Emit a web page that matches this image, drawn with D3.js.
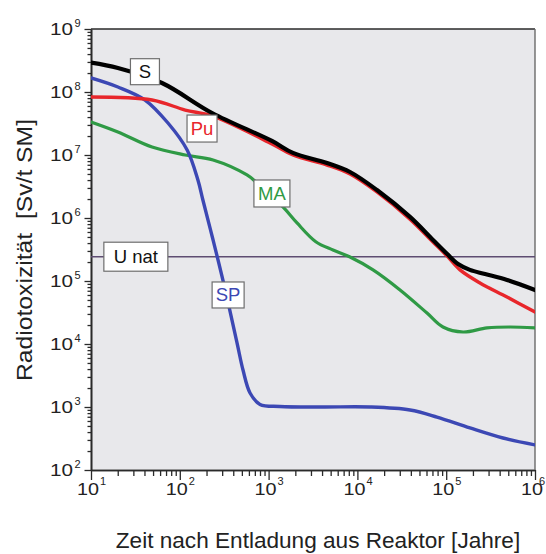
<!DOCTYPE html>
<html>
<head>
<meta charset="utf-8">
<script src="https://cdn.jsdelivr.net/npm/d3@7/dist/d3.min.js"></script>
<style>
  html, body { margin: 0; padding: 0; background: #ffffff; }
  svg { display: block; font-family: "Liberation Sans", Arial, sans-serif; }
</style>
</head>
<body>
<svg id="chart" width="546" height="554"></svg>
<script>
// Radiotoxicity of spent fuel components over time (Sv per tonne heavy metal)
const sYears  = [10, 20.1, 63, 231, 1090, 1880, 4550, 8260, 16600, 39100, 71000, 102000, 136000, 185000, 274000, 484000, 1000000];
const sValues = [2.92e8, 2.40e8, 1.39e8, 4.64e7, 1.67e7, 1.08e7, 7.46e6, 5.37e6, 2.78e6, 1.04e6, 4.48e5, 2.70e5, 1.86e5, 1.50e5, 1.29e5, 1.04e5, 7.2e4];

const puYears  = [10, 48.7, 115, 231, 1090, 1880, 4550, 8260, 16600, 39100, 71000, 102000, 143000, 240000, 484000, 1000000];
const puValues = [8.34e7, 7.46e7, 5.17e7, 4.16e7, 1.50e7, 1.0e7, 6.93e6, 4.99e6, 2.59e6, 9.6e5, 4.16e5, 2.50e5, 1.50e5, 9.3e4, 5.57e4, 3.22e4];

const maYears  = [10, 20.1, 48.7, 115, 237, 571, 740, 1450, 2090, 3400, 5310, 8260, 15000, 30200, 60800, 92000, 155000, 288000, 522000, 1000000];
const maValues = [3.34e7, 2.32e7, 1.34e7, 1.0e7, 8.34e6, 4.82e6, 3.6e6, 1.5e6, 8.34e5, 4.2e5, 3.10e5, 2.40e5, 1.50e5, 7.2e4, 3.10e4, 1.86e4, 1.55e4, 1.80e4, 1.86e4, 1.80e4];

const spYears  = [10, 20.1, 40.6, 73.6, 121, 160, 182, 237, 315, 441, 515, 618, 800, 1340, 4000, 13900, 39100, 78700, 185000, 436000, 1000000];
const spValues = [1.67e8, 1.20e8, 7.46e7, 3.22e7, 1.20e7, 4.0e6, 1.93e6, 4.48e5, 8.65e4, 1.04e4, 3.86e3, 1.67e3, 1.10e3, 1.02e3, 1.0e3, 1.0e3, 897, 693, 465, 322, 250];

const uNatValue = 2.43e5;

const xTickExponents = [1, 2, 3, 4, 5, 6];
const yTickExponents = [2, 3, 4, 5, 6, 7, 8, 9];

// Series styling
const seriesDefs = [
  { name: "MA", years: maYears, values: maValues, color: "#2f9a45", width: 3.2 },
  { name: "SP", years: spYears, values: spValues, color: "#3c48b4", width: 3.4 },
  { name: "Pu", years: puYears, values: puValues, color: "#e8262b", width: 3.4 },
  { name: "S",  years: sYears,  values: sValues,  color: "#000000", width: 4.2 }
];

const svg = d3.select("#chart");
const plotLeft = 91, plotRight = 535, plotTop = 29, plotBottom = 470;

const x = d3.scaleLog().domain([10, 1e6]).range([plotLeft, plotRight]);
const y = d3.scaleLog().domain([1e2, 1e9]).range([plotBottom, plotTop]);

// plot background
svg.append("rect")
  .attr("x", plotLeft).attr("y", plotTop)
  .attr("width", plotRight - plotLeft).attr("height", plotBottom - plotTop)
  .attr("fill", "#e8e8eb");

// minor and major tick values
function minorTicks(lo, hi) {
  const out = [];
  for (let e = lo; e < hi; e++) {
    for (let m = 2; m <= 9; m++) out.push(m * Math.pow(10, e));
  }
  return out;
}
const xMajor = xTickExponents.map(e => Math.pow(10, e));
const yMajor = yTickExponents.map(e => Math.pow(10, e));

const axisColor = "#2a2a2a";

function styleAxis(g) {
  g.select(".domain").attr("stroke", axisColor).attr("stroke-width", 1.6);
  g.selectAll(".tick line").attr("stroke", axisColor).attr("stroke-width", 1.3);
  g.selectAll(".tick text").remove();
}

svg.append("g").attr("transform", `translate(0,${plotBottom})`)
  .call(d3.axisBottom(x).tickValues(minorTicks(1, 6)).tickSize(6).tickSizeOuter(0).tickFormat(""))
  .call(styleAxis);
svg.append("g").attr("transform", `translate(0,${plotBottom})`)
  .call(d3.axisBottom(x).tickValues(xMajor).tickSize(10).tickSizeOuter(0).tickFormat(""))
  .call(styleAxis);
svg.append("g").attr("transform", `translate(${plotLeft},0)`)
  .call(d3.axisLeft(y).tickValues(minorTicks(2, 9)).tickSize(3.5).tickSizeOuter(0).tickFormat(""))
  .call(styleAxis);
svg.append("g").attr("transform", `translate(${plotLeft},0)`)
  .call(d3.axisLeft(y).tickValues(yMajor).tickSize(6.5).tickSizeOuter(0).tickFormat(""))
  .call(styleAxis);

// top and right frame
svg.append("line").attr("x1", plotLeft).attr("x2", plotRight).attr("y1", plotTop).attr("y2", plotTop)
  .attr("stroke", axisColor).attr("stroke-width", 1.6);
svg.append("line").attr("x1", plotRight).attr("x2", plotRight).attr("y1", plotTop).attr("y2", plotBottom)
  .attr("stroke", "#6a6a6a").attr("stroke-width", 1.4);

// tick labels with superscript exponents
const tickFont = 17, expFont = 11;
const yLab = svg.append("g").attr("fill", "#222");
yTickExponents.forEach(e => {
  const yy = y(Math.pow(10, e));
  yLab.append("text").attr("x", 73).attr("y", yy + 6)
    .attr("text-anchor", "end").attr("font-size", tickFont)
    .attr("textLength", 23).attr("lengthAdjust", "spacingAndGlyphs").text("10");
  yLab.append("text").attr("x", 74.5).attr("y", yy - 2)
    .attr("font-size", expFont).text(e);
});
const xLab = svg.append("g").attr("fill", "#222");
xTickExponents.forEach(e => {
  const xx = x(Math.pow(10, e));
  xLab.append("text").attr("x", xx - 3).attr("y", 495)
    .attr("text-anchor", "middle").attr("font-size", tickFont)
    .attr("textLength", 22).attr("lengthAdjust", "spacingAndGlyphs").text("10");
  xLab.append("text").attr("x", Math.min(xx + 9, 539)).attr("y", 485)
    .attr("font-size", expFont).text(e);
});

// axis titles
svg.append("text")
  .attr("transform", `translate(32,250) rotate(-90)`)
  .attr("text-anchor", "middle").attr("font-size", 22).attr("fill", "#222")
  .attr("xml:space", "preserve")
  .attr("textLength", 262).attr("lengthAdjust", "spacingAndGlyphs")
  .text("Radiotoxizität  [Sv/t SM]");
svg.append("text")
  .attr("x", 318).attr("y", 548)
  .attr("text-anchor", "middle").attr("font-size", 22.6).attr("fill", "#222")
  .text("Zeit nach Entladung aus Reaktor [Jahre]");

// clip curves to the plot area
svg.append("clipPath").attr("id", "plotClip")
  .append("rect").attr("x", plotLeft).attr("y", plotTop)
  .attr("width", plotRight - plotLeft).attr("height", plotBottom - plotTop);

const plot = svg.append("g").attr("clip-path", "url(#plotClip)");

// natural uranium reference level
plot.append("line")
  .attr("x1", x(10)).attr("x2", x(1e6))
  .attr("y1", y(uNatValue)).attr("y2", y(uNatValue))
  .attr("stroke", "#5e4d72").attr("stroke-width", 1.6);

const line = d3.line()
  .x(d => x(d[0]))
  .y(d => y(d[1]))
  .curve(d3.curveCatmullRom.alpha(0.5));

seriesDefs.forEach(s => {
  const pts = s.years.map((t, i) => [t, s.values[i]]);
  plot.append("path")
    .datum(pts)
    .attr("d", line)
    .attr("fill", "none")
    .attr("stroke", s.color)
    .attr("stroke-width", s.width)
    .attr("stroke-linejoin", "round")
    .attr("stroke-linecap", "round");
});

// boxed curve labels
function boxLabel(cx, cy, text, color, w, h) {
  const g = svg.append("g");
  g.append("rect")
    .attr("x", cx - w / 2).attr("y", cy - h / 2)
    .attr("width", w).attr("height", h)
    .attr("fill", "#ffffff").attr("stroke", "#6e6e6e").attr("stroke-width", 1.2);
  g.append("text")
    .attr("x", cx).attr("y", cy + 6.5)
    .attr("text-anchor", "middle").attr("font-size", 18.5)
    .attr("fill", color).text(text);
}

boxLabel(x(40.5), y(2.1e8), "S", "#111111", 29, 26);
boxLabel(x(178), y(2.63e7), "Pu", "#e8262b", 30, 27);
boxLabel(x(1090), y(2.45e6), "MA", "#2f9a45", 36, 27);
boxLabel(x(350), y(6.0e4), "SP", "#3c48b4", 32, 26);
boxLabel(x(32), y(uNatValue), "U nat", "#111111", 64, 29);
</script>
</body>
</html>
